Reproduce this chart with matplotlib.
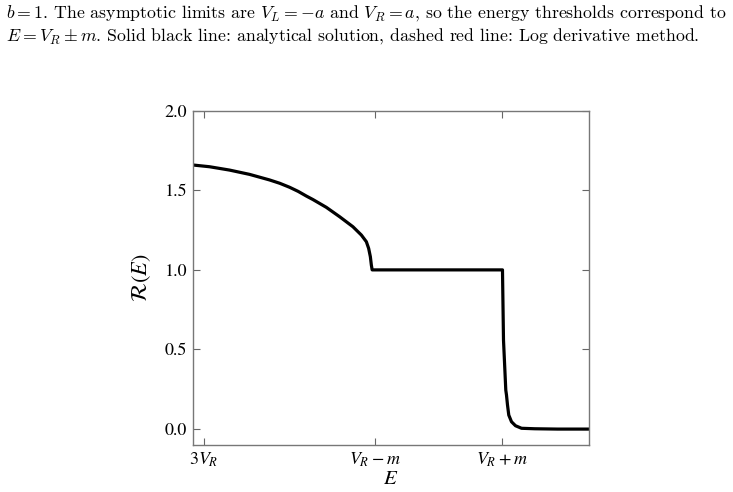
import matplotlib
matplotlib.use("Agg")
import matplotlib.pyplot as plt
import numpy as np

plt.rcParams['font.family'] = ['STIXGeneral', 'DejaVu Serif']
plt.rcParams['mathtext.fontset'] = 'stix'

# Energy axis in units of m (m = 1), V_R = a ~ -1.85
m = 1.0
a = -1.85
VR = a

# Curve (E, R(E))
E_vals = [-5.7185, -5.4555, -5.1406, -4.8256, -4.5106, -4.3500, -4.1957, -4.0600,
          -3.9327, -3.8287, -3.6178, -3.4083, -3.1989, -3.0666, -2.9879, -2.9516,
          -2.9249, -2.9091, -2.8965,
          -0.846, -0.830, -0.794, -0.783, -0.767, -0.747, -0.704, -0.641, -0.546,
          -0.337, 0.02, 0.52]
R_vals = [1.659, 1.648, 1.627, 1.600, 1.565, 1.544, 1.519, 1.493,
          1.464, 1.442, 1.393, 1.334, 1.271, 1.219, 1.177, 1.135,
          1.083, 1.030, 1.000,
          1.000, 0.559, 0.245, 0.214, 0.151, 0.088, 0.046, 0.021, 0.005,
          0.002, 0.0, 0.0]

xtick_pos = [3 * VR, VR - m, VR + m]
xtick_labels = [r'$3V_R$', r'$V_R - m$', r'$V_R + m$']
ytick_pos = [0.0, 0.5, 1.0, 1.5, 2.0]
ytick_labels = ['0.0', '0.5', '1.0', '1.5', '2.0']

caption1 = (r'$b = 1$. The asymptotic limits are $V_L = {-a}$ and $V_R = a$, '
            r'so the energy thresholds correspond to')
caption2 = (r'$E = V_R \pm m$. Solid black line: analytical solution, '
            r'dashed red line: Log derivative method.')

fig = plt.figure(figsize=(7.33, 4.92), dpi=100)
W, H = 733, 492
ax = fig.add_axes([192.7 / W, 1 - 445 / H, (589.3 - 192.7) / W, (445 - 110.7) / H])

ax.plot(E_vals, R_vals, color='black', lw=2.3, solid_joinstyle='round',
        solid_capstyle='butt')
ax.set_xlim(-5.72, 0.52)
ax.set_ylim(-0.1, 2.0)

ax.set_xticks(xtick_pos)
ax.set_xticklabels(xtick_labels, fontsize=13)
ax.set_yticks(ytick_pos)
ax.set_yticklabels(ytick_labels, fontsize=13)
ax.tick_params(direction='in', length=5, width=0.8, color='#666666',
               top=True, right=True, pad=4)
for s in ax.spines.values():
    s.set_color('#777777')
    s.set_linewidth(1.0)

ax.set_xlabel(r'$E$', fontsize=15, labelpad=0)
ax.set_ylabel(r'$\mathcal{R}(E)$', fontsize=16, labelpad=8)

fig.text(6 / W, 1 - 13 / H, caption1, fontsize=12.8, family='cmr10',
         math_fontfamily='cm', va='center', ha='left')
fig.text(6 / W, 1 - 36 / H, caption2, fontsize=12.8, family='cmr10',
         math_fontfamily='cm', va='center', ha='left')

fig.savefig('out.png', dpi=100)
